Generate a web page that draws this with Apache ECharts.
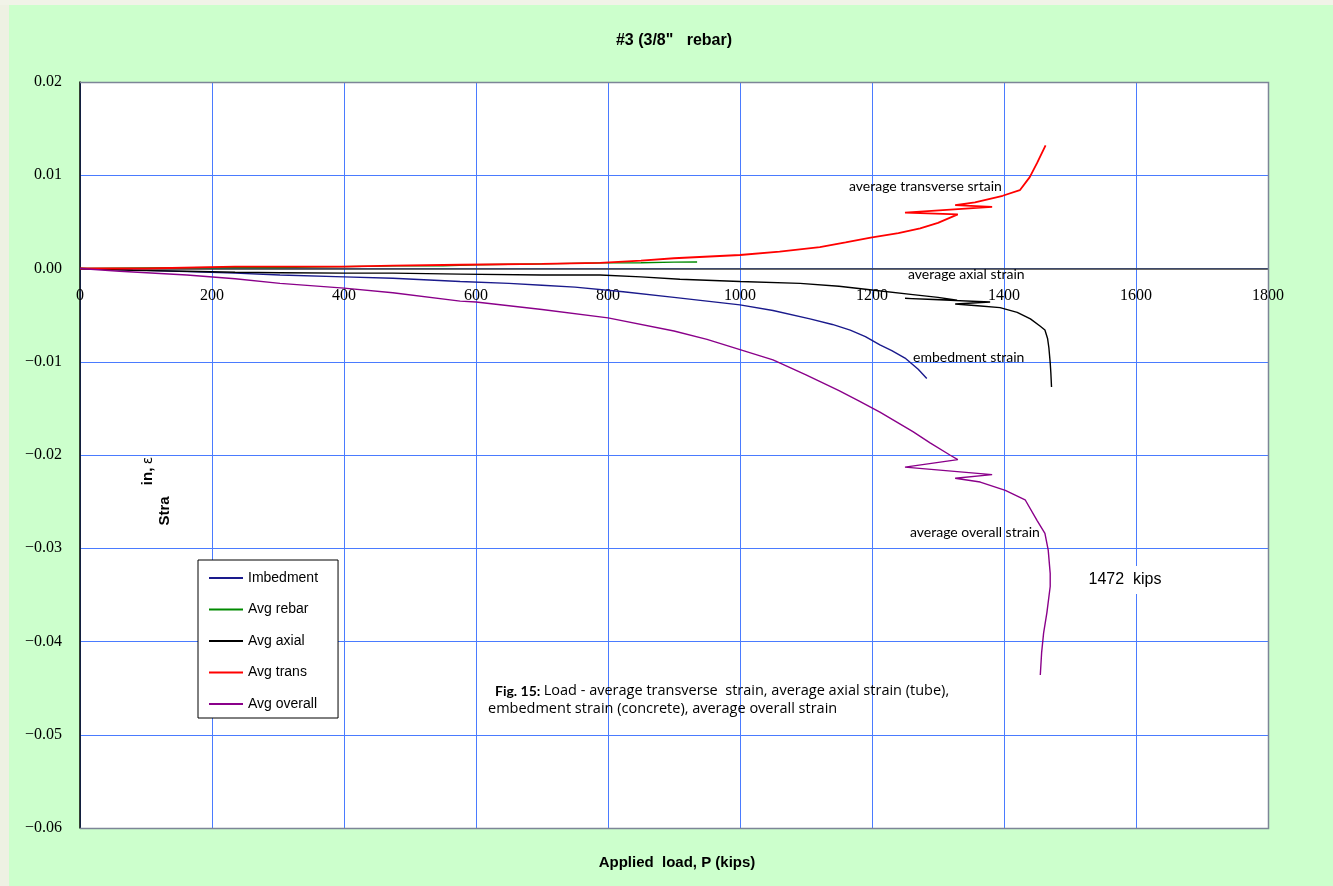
<!DOCTYPE html>
<html>
<head>
<meta charset="utf-8">
<script src="https://cdn.jsdelivr.net/npm/echarts@6/dist/echarts.min.js"></script>
<style>
html,body{margin:0;padding:0;background:#ccffcc;}
#chart{width:1333px;height:886px;}
</style>
</head>
<body>
<div id="chart"></div>
<script>
// Load (kips) vs strain readings for each gauge group
var embedLoad   = [0, 50, 100, 162, 235, 303, 400, 474, 576, 650, 700, 750, 823, 900, 950, 1000, 1050, 1106, 1140, 1167, 1190, 1212, 1230, 1250, 1270, 1283];
var embedStrain = [0, -0.0001, -0.0002, -0.00034, -0.0005, -0.0007, -0.0009, -0.00105, -0.0014, -0.0016, -0.0018, -0.002, -0.0025, -0.0031, -0.0035, -0.0039, -0.0045, -0.0054, -0.006, -0.0066, -0.0073, -0.0082, -0.0088, -0.0096, -0.0108, -0.0118];

var rebarLoad   = [0, 100, 235, 300, 455, 480, 550, 600, 700, 788, 850, 900, 935];
var rebarStrain = [0, 0.00005, 0.0001, 0.0001, 0.00025, 0.0003, 0.0003, 0.0004, 0.0005, 0.0006, 0.00062, 0.00068, 0.0007];

var axialLoad   = [0, 80, 162, 235, 303, 400, 474, 576, 700, 788, 850, 909, 1000, 1091, 1150, 1200, 1262, 1300, 1329, 1250, 1379, 1326, 1360, 1394, 1420, 1440, 1455, 1462, 1466, 1468, 1470, 1471, 1472];
var axialStrain = [0, -0.0002, -0.0003, -0.0004, -0.00045, -0.0005, -0.0005, -0.0006, -0.0007, -0.0007, -0.0009, -0.00116, -0.0014, -0.0016, -0.0019, -0.0023, -0.0028, -0.0031, -0.0034, -0.0032, -0.0036, -0.0038, -0.004, -0.0042, -0.0047, -0.0054, -0.0062, -0.0066, -0.0075, -0.0085, -0.0101, -0.0112, -0.0127];

var transLoad   = [0, 100, 235, 400, 474, 576, 700, 788, 850, 900, 1000, 1060, 1121, 1160, 1198, 1240, 1273, 1300, 1330, 1250, 1382, 1326, 1356, 1398, 1424, 1439, 1450, 1463];
var transStrain = [0, 0, 0.0002, 0.0002, 0.0003, 0.0004, 0.0005, 0.0006, 0.00084, 0.0011, 0.00145, 0.0018, 0.0023, 0.0028, 0.0033, 0.0038, 0.0043, 0.0049, 0.0058, 0.006, 0.0066, 0.0068, 0.0071, 0.0078, 0.0084, 0.0098, 0.0113, 0.0132];

var overallLoad   = [0, 60, 162, 235, 303, 400, 474, 576, 600, 700, 800, 900, 950, 1000, 1050, 1100, 1150, 1180, 1212, 1262, 1288, 1318, 1330, 1250, 1382, 1326, 1364, 1402, 1432, 1450, 1462, 1467, 1470, 1470, 1465, 1460, 1457, 1455];
var overallStrain = [0, -0.0003, -0.0007, -0.0011, -0.0016, -0.0021, -0.0026, -0.0035, -0.0036, -0.0044, -0.0053, -0.0067, -0.0076, -0.0087, -0.0098, -0.0114, -0.0131, -0.0142, -0.0154, -0.0175, -0.0187, -0.02, -0.0205, -0.0213, -0.0221, -0.0225, -0.0229, -0.0238, -0.0248, -0.027, -0.0284, -0.0302, -0.0327, -0.0341, -0.0369, -0.0391, -0.0412, -0.0436];

var seriesNames  = ['Imbedment', 'Avg rebar', 'Avg axial', 'Avg trans', 'Avg overall'];
var seriesColors = ['#1a1a8c', '#008a00', '#000000', '#ff0000', '#8a008a'];

var loadMin = 0, loadMax = 1800, loadStep = 200;
var strainMin = -0.06, strainMax = 0.02, strainStep = 0.01;

function pairs(xs, ys) {
  return xs.map(function (x, i) { return [x, ys[i]]; });
}

var seriesData = [
  pairs(embedLoad, embedStrain),
  pairs(rebarLoad, rebarStrain),
  pairs(axialLoad, axialStrain),
  pairs(transLoad, transStrain),
  pairs(overallLoad, overallStrain)
];

var gridLeft = 80, gridTop = 82, gridW = 1188, gridH = 746;
// load axis sits on the zero-strain line
var zeroOffset = -(0 - strainMin) / (strainMax - strainMin) * gridH;
var calibriLike = 'Lato, "Open Sans", sans-serif';
var captionFont = '"Open Sans", Lato, sans-serif';

var chart = echarts.init(document.getElementById('chart'), null, {renderer: 'canvas'});

chart.setOption({
  backgroundColor: '#ccffcc',
  animation: false,
  grid: {
    left: gridLeft, top: gridTop, width: gridW, height: gridH,
    show: true, backgroundColor: '#ffffff', borderWidth: 0,
    containLabel: false
  },
  legend: {
    orient: 'vertical',
    left: 198, top: 560,
    padding: [10, 20, 6, 11],
    itemGap: 15.5,
    itemWidth: 34, itemHeight: 2,
    icon: 'rect',
    backgroundColor: '#ffffff',
    borderColor: '#000000', borderWidth: 1,
    borderRadius: 0,
    selectedMode: false,
    textStyle: {fontFamily: 'Liberation Sans, Arial, sans-serif', fontSize: 14, color: '#000', lineHeight: 16},
    data: seriesNames
  },
  xAxis: {
    type: 'value', min: loadMin, max: loadMax, interval: loadStep,
    position: 'bottom',
    offset: zeroOffset,
    axisLine: {show: true, onZero: false, lineStyle: {color: '#3a3a3a', width: 1.5}},
    axisTick: {show: false},
    axisLabel: {
      show: true, margin: 19, color: '#000',
      fontFamily: 'Liberation Serif, "Times New Roman", serif', fontSize: 16,
      showMinLabel: true, showMaxLabel: true, hideOverlap: false,
      formatter: function (v) { return String(v); }
    },
    splitLine: {show: true, lineStyle: {color: '#4a7bff', width: 1}}
  },
  yAxis: {
    type: 'value', min: strainMin, max: strainMax, interval: strainStep,
    axisLine: {show: true, onZero: false, lineStyle: {color: '#000', width: 1.5}},
    axisTick: {show: false},
    axisLabel: {
      show: true, margin: 18, color: '#000',
      fontFamily: 'Liberation Serif, "Times New Roman", serif', fontSize: 16,
      showMinLabel: true, showMaxLabel: true,
      formatter: function (v) {
        var r = Math.round(v * 100) / 100;
        return (r < 0 ? '\u2212' : '') + Math.abs(r).toFixed(2);
      }
    },
    splitLine: {show: true, lineStyle: {color: '#4a7bff', width: 1}}
  },
  series: seriesData.map(function (d, i) {
    return {
      name: seriesNames[i],
      type: 'line',
      data: d,
      showSymbol: false,
      symbol: 'none',
      color: seriesColors[i],
      lineStyle: {color: seriesColors[i], width: i === 3 ? 1.8 : 1.4},
      z: 3 + i
    };
  }),
  graphic: [
    {type: 'rect', shape: {x: 0, y: 0, width: 9, height: 886}, style: {fill: '#eef1e3'}, z: 0, silent: true},
    {type: 'rect', shape: {x: 0, y: 0, width: 1333, height: 5}, style: {fill: '#f1f3e8'}, z: 0, silent: true},
    {
      type: 'polyline', z: 20, silent: true,
      shape: {points: [[gridLeft, gridTop + 0.5], [gridLeft + gridW + 0.5, gridTop + 0.5], [gridLeft + gridW + 0.5, gridTop + gridH + 0.5], [gridLeft, gridTop + gridH + 0.5]]},
      style: {stroke: '#7d8597', lineWidth: 1.5, fill: null}
    },
    {
      type: 'text', z: 20, silent: true,
      style: {text: '#3 (3/8"   rebar)', x: 674, y: 41, fill: '#000', font: 'bold 16px "Liberation Sans", Arial, sans-serif', textAlign: 'center', textVerticalAlign: 'middle'}
    },
    {
      type: 'text', z: 20, silent: true,
      style: {text: 'Applied  load, P (kips)', x: 677, y: 863, fill: '#000', font: 'bold 15px "Liberation Sans", Arial, sans-serif', textAlign: 'center', textVerticalAlign: 'middle'}
    },
    {
      type: 'text', z: 20, silent: true, x: 165, y: 511, rotation: Math.PI / 2,
      style: {text: 'Stra', x: 0, y: 0, fill: '#000', font: 'bold 15px "Liberation Sans", Arial, sans-serif', textAlign: 'center', textVerticalAlign: 'middle'}
    },
    {
      type: 'text', z: 20, silent: true, x: 148, y: 471, rotation: Math.PI / 2,
      style: {
        text: '{b|in,} {e|\u03b5}', x: 0, y: 0, textAlign: 'center', textVerticalAlign: 'middle',
        rich: {
          b: {font: 'bold 15px "Liberation Sans", Arial, sans-serif', fill: '#000'},
          e: {font: '14px "DejaVu Sans", sans-serif', fill: '#000'}
        }
      }
    },
    {
      type: 'text', z: 20, silent: true,
      style: {text: 'average transverse srtain', x: 849, y: 186, fill: '#000', font: '14px ' + calibriLike, textAlign: 'left', textVerticalAlign: 'middle'}
    },
    {
      type: 'text', z: 20, silent: true,
      style: {text: 'average axial strain', x: 908, y: 274, fill: '#000', font: '14px ' + calibriLike, textAlign: 'left', textVerticalAlign: 'middle'}
    },
    {
      type: 'text', z: 20, silent: true,
      style: {text: 'embedment strain', x: 913, y: 357, fill: '#000', font: '14px ' + calibriLike, textAlign: 'left', textVerticalAlign: 'middle'}
    },
    {
      type: 'text', z: 20, silent: true,
      style: {text: 'average overall strain', x: 910, y: 532, fill: '#000', font: '14px ' + calibriLike, textAlign: 'left', textVerticalAlign: 'middle'}
    },
    {
      type: 'text', z: 20, silent: true,
      style: {
        text: '1472  kips', x: 1125, y: 580, fill: '#000', font: '16px "Liberation Sans", Arial, sans-serif',
        textAlign: 'center', textVerticalAlign: 'middle', backgroundColor: '#ffffff', padding: [6, 4, 6, 4]
      }
    },
    {
      type: 'text', z: 20, silent: true,
      style: {
        text: '{b|Fig. 15:} {n|Load - average transverse  strain, average axial strain (tube),}',
        x: 495, y: 691, textAlign: 'left', textVerticalAlign: 'middle',
        rich: {
          b: {font: 'bold 14px ' + calibriLike, fill: '#000'},
          n: {font: '14.5px ' + captionFont, fill: '#000'}
        }
      }
    },
    {
      type: 'text', z: 20, silent: true,
      style: {text: 'embedment strain (concrete), average overall strain', x: 488, y: 709, fill: '#000', font: '14.5px ' + captionFont, textAlign: 'left', textVerticalAlign: 'middle'}
    }
  ]
});
</script>
</body>
</html>
